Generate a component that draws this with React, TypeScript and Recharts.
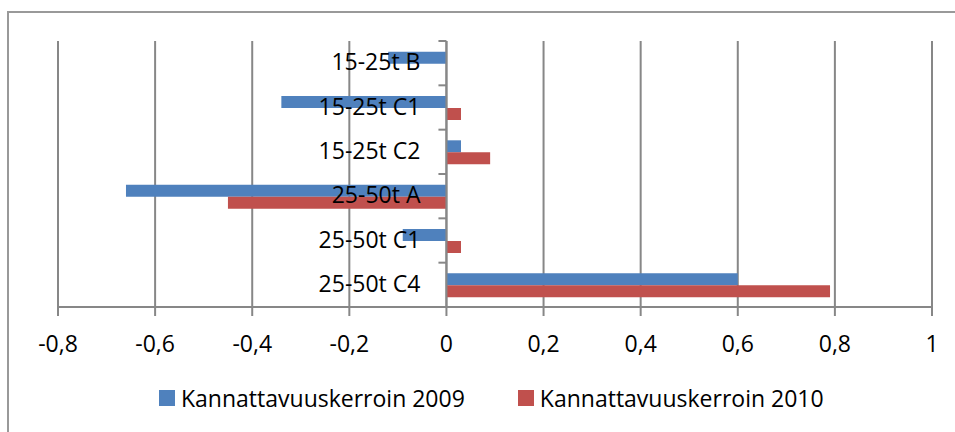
import { BarChart, Bar, XAxis, YAxis, CartesianGrid, Legend, ReferenceLine } from 'recharts';

const CATEGORIES = ['15-25t B', '15-25t C1', '15-25t C2', '25-50t A', '25-50t C1', '25-50t C4'];
const SERIES_2009 = [-0.12, -0.34, 0.03, -0.66, -0.09, 0.6];
const SERIES_2010 = [0, 0.03, 0.09, -0.45, 0.03, 0.79];
const X_TICKS = [-0.8, -0.6, -0.4, -0.2, 0, 0.2, 0.4, 0.6, 0.8, 1];
const SERIES_NAMES = ['Kannattavuuskerroin 2009', 'Kannattavuuskerroin 2010'];

const BLUE = '#4F81BD';
const RED = '#C0504D';
const AXIS = '#878787';
const FONT = '"Open Sans", sans-serif';
const FS = 23;

const W = 955;
const H = 432;
const MARGIN = { top: 41, right: 23, bottom: 95, left: 57 };
const Y_AXIS_W = 1;
const X_MIN = X_TICKS[0];
const X_MAX = X_TICKS[X_TICKS.length - 1];
const PLOT_LEFT = MARGIN.left + Y_AXIS_W;
// where the value axis crosses zero; the category labels hang off it (Excel style)
const ZERO_X = PLOT_LEFT + ((0 - X_MIN) / (X_MAX - X_MIN)) * (W - PLOT_LEFT - MARGIN.right);

const data = CATEGORIES.map((name, i) => ({
  name,
  v2009: SERIES_2009[i],
  v2010: SERIES_2010[i],
}));

const fmt = (v: number) => String(v).replace('.', ',');

const renderCategoryTick = (props: any) => {
  const { y, payload } = props;
  const half = payload.offset ?? 0;
  return (
    <g key={payload.value}>
      <line x1={ZERO_X - 8} x2={ZERO_X} y1={y - half} y2={y - half} stroke={AXIS} strokeWidth={2} />
      <text x={ZERO_X - 26} y={y} dy={7} textAnchor="end" fill="#000" fontSize={FS} fontFamily={FONT}>
        {payload.value}
      </text>
    </g>
  );
};

function LegendContent(props: any) {
  const items = props.payload || [];
  return (
    <div style={{ display: 'flex', alignItems: 'center', paddingLeft: 159, fontFamily: FONT, fontSize: FS, lineHeight: '22px' }}>
      {items.map((it: any, i: number) => (
        <div key={it.value} style={{ display: 'flex', alignItems: 'center', marginRight: i === 0 ? 53 : 0 }}>
          <span style={{ width: 16, height: 16, background: it.color, marginRight: 6, display: 'inline-block' }} />
          <span style={{ color: '#000' }}>{it.value}</span>
        </div>
      ))}
    </div>
  );
}

export default function App() {
  return (
    <div style={{ position: 'fixed', left: 0, top: 0, width: W, height: H, overflow: 'hidden', background: '#fff' }}>
      {/* chart frame, only its top and left edges fall inside the picture */}
      <div
        style={{
          position: 'absolute',
          left: 7,
          top: 11,
          width: 1200,
          height: 800,
          borderLeft: '2px solid #999',
          borderTop: '2px solid #999',
        }}
      />
      <div style={{ position: 'absolute', left: 0, top: 0 }}>
        <BarChart width={W} height={H} data={data} layout="vertical" margin={MARGIN} barCategoryGap="24%" barGap={0}>
          <CartesianGrid horizontal={false} stroke={AXIS} strokeWidth={2} />
          <XAxis
            type="number"
            domain={[X_MIN, X_MAX]}
            ticks={X_TICKS}
            tickFormatter={fmt}
            stroke={AXIS}
            strokeWidth={2}
            tickSize={9}
            tickMargin={20}
            height={30}
            tick={{ fill: '#000', fontSize: FS, fontFamily: FONT }}
            allowDataOverflow
          />
          <Bar dataKey="v2009" name={SERIES_NAMES[0]} fill={BLUE} isAnimationActive={false} />
          <Bar dataKey="v2010" name={SERIES_NAMES[1]} fill={RED} isAnimationActive={false} />
          <ReferenceLine x={0} stroke={AXIS} strokeWidth={2} />
          <YAxis
            type="category"
            dataKey="name"
            width={Y_AXIS_W}
            axisLine={false}
            tickLine={false}
            tick={renderCategoryTick}
            interval={0}
          />
          <Legend
            verticalAlign="middle"
            align="center"
            content={<LegendContent />}
            wrapperStyle={{ top: 387, left: 0, width: W, bottom: 'auto' }}
          />
        </BarChart>
      </div>
    </div>
  );
}
